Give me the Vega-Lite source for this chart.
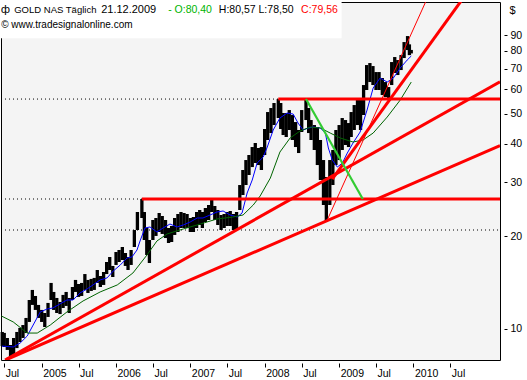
{
  "$schema": "https://vega.github.io/schema/vega-lite/v6.json",
  "width": 499,
  "height": 358,
  "autosize": {"type": "none"},
  "padding": {"left": 1, "top": 2, "right": 27, "bottom": 20},
  "background": "white",
  "config": {
    "view": {"fill": "#f4f4f4", "stroke": "black", "strokeWidth": 1},
    "font": "Liberation Sans",
    "axis": {"grid": false, "domain": false, "tickColor": "black", "labelColor": "black", "labelFont": "Liberation Sans", "labelFontSize": 10.5, "titleFont": "Liberation Sans"}
  },
  "datasets": {
    "price": [
      {"d":"2004-06-21","hi":9.78,"lo":8.80},{"d":"2004-07-01","hi":9.71,"lo":8.74},{"d":"2004-07-16","hi":9.35,"lo":8.55},{"d":"2004-08-01","hi":8.87,"lo":8.05},{"d":"2004-08-16","hi":9.35,"lo":8.17},{"d":"2004-09-01","hi":9.78,"lo":8.67},{"d":"2004-09-16","hi":10.08,"lo":9.07},{"d":"2004-10-01","hi":10.30,"lo":9.35},{"d":"2004-10-16","hi":10.86,"lo":9.70},{"d":"2004-11-01","hi":12.42,"lo":10.54},{"d":"2004-11-16","hi":13.39,"lo":11.97},{"d":"2004-12-01","hi":12.80,"lo":11.53},{"d":"2004-12-16","hi":11.97,"lo":10.86},
      {"d":"2005-01-01","hi":11.53,"lo":10.54},{"d":"2005-01-16","hi":11.27,"lo":10.15},{"d":"2005-02-01","hi":12.15,"lo":10.94},{"d":"2005-02-16","hi":14.11,"lo":12.42},{"d":"2005-03-01","hi":13.19,"lo":11.53},{"d":"2005-03-16","hi":12.61,"lo":11.27},{"d":"2005-04-01","hi":12.24,"lo":11.18},{"d":"2005-04-16","hi":12.90,"lo":11.70},{"d":"2005-05-01","hi":13.19,"lo":11.88},{"d":"2005-05-16","hi":12.61,"lo":11.27},{"d":"2005-06-01","hi":13.69,"lo":12.42},{"d":"2005-06-16","hi":14.43,"lo":13.19},{"d":"2005-07-01","hi":14.00,"lo":12.71},{"d":"2005-07-16","hi":14.11,"lo":12.80},{"d":"2005-08-01","hi":15.08,"lo":13.39},{"d":"2005-08-16","hi":14.43,"lo":13.09},{"d":"2005-09-01","hi":14.54,"lo":13.29},{"d":"2005-09-16","hi":14.65,"lo":13.39},{"d":"2005-10-01","hi":15.54,"lo":14.11},{"d":"2005-10-16","hi":14.86,"lo":13.69},{"d":"2005-11-01","hi":15.31,"lo":13.90},{"d":"2005-11-16","hi":16.50,"lo":15.08},{"d":"2005-12-01","hi":17.13,"lo":15.54},{"d":"2005-12-16","hi":16.02,"lo":14.75},
      {"d":"2006-01-01","hi":17.78,"lo":16.14},{"d":"2006-01-16","hi":18.05,"lo":16.50},{"d":"2006-02-01","hi":18.46,"lo":16.75},{"d":"2006-02-16","hi":17.65,"lo":16.02},{"d":"2006-03-01","hi":17.13,"lo":15.54},{"d":"2006-03-16","hi":18.05,"lo":16.14},{"d":"2006-04-01","hi":20.96,"lo":18.46},{"d":"2006-04-16","hi":23.98,"lo":20.96},{"d":"2006-05-08","hi":26.43,"lo":22.93},{"d":"2006-05-20","hi":23.98,"lo":19.45},{"d":"2006-06-01","hi":21.28,"lo":17.39},{"d":"2006-06-14","hi":19.45,"lo":16.38},{"d":"2006-07-01","hi":22.59,"lo":19.45},{"d":"2006-07-16","hi":22.93,"lo":20.05},{"d":"2006-08-01","hi":23.80,"lo":20.65},{"d":"2006-08-16","hi":23.28,"lo":20.35},{"d":"2006-09-01","hi":22.59,"lo":19.74},{"d":"2006-09-16","hi":21.28,"lo":19.02},{"d":"2006-10-01","hi":21.60,"lo":19.16},{"d":"2006-10-16","hi":22.93,"lo":20.20},{"d":"2006-11-01","hi":23.63,"lo":20.65},{"d":"2006-11-16","hi":23.98,"lo":21.28},{"d":"2006-12-01","hi":23.80,"lo":21.28},{"d":"2006-12-16","hi":23.63,"lo":21.28},
      {"d":"2007-01-01","hi":22.93,"lo":20.65},{"d":"2007-01-16","hi":23.10,"lo":20.65},{"d":"2007-02-01","hi":23.98,"lo":21.28},{"d":"2007-02-16","hi":24.34,"lo":21.76},{"d":"2007-03-01","hi":23.98,"lo":21.28},{"d":"2007-03-16","hi":24.71,"lo":22.25},{"d":"2007-04-01","hi":25.27,"lo":22.59},{"d":"2007-04-16","hi":26.23,"lo":23.98},{"d":"2007-05-01","hi":25.08,"lo":22.59},{"d":"2007-05-16","hi":24.34,"lo":21.76},{"d":"2007-06-01","hi":23.45,"lo":20.96},{"d":"2007-06-16","hi":23.63,"lo":21.28},{"d":"2007-07-01","hi":23.98,"lo":21.60},{"d":"2007-07-16","hi":24.16,"lo":21.60},{"d":"2007-08-01","hi":23.63,"lo":20.96},{"d":"2007-08-16","hi":23.98,"lo":20.96},{"d":"2007-09-01","hi":29.34,"lo":24.34},{"d":"2007-09-16","hi":32.83,"lo":27.23},{"d":"2007-10-01","hi":35.37,"lo":29.34},{"d":"2007-10-16","hi":36.72,"lo":31.62},{"d":"2007-11-01","hi":38.98,"lo":33.56},{"d":"2007-11-16","hi":40.17,"lo":34.59},{"d":"2007-12-01","hi":38.70,"lo":34.07},{"d":"2007-12-16","hi":38.98,"lo":32.83},
      {"d":"2008-01-01","hi":44.60,"lo":36.72},{"d":"2008-01-16","hi":50.64,"lo":41.08},{"d":"2008-02-01","hi":52.18,"lo":43.28},{"d":"2008-02-16","hi":54.17,"lo":45.95},{"d":"2008-03-08","hi":55.8,"lo":48.42},{"d":"2008-03-20","hi":54.17,"lo":44.60},{"d":"2008-04-01","hi":50.27,"lo":42.64},{"d":"2008-04-16","hi":50.27,"lo":42.01},{"d":"2008-05-01","hi":51.40,"lo":44.27},{"d":"2008-05-16","hi":49.52,"lo":41.08},{"d":"2008-06-01","hi":46.99,"lo":38.98},{"d":"2008-06-16","hi":44.27,"lo":37.27},{"d":"2008-07-01","hi":51.40,"lo":43.61},{"d":"2008-07-22","hi":55.8,"lo":47.70},{"d":"2008-08-04","hi":52.18,"lo":43.28},{"d":"2008-08-16","hi":47.70,"lo":41.08},{"d":"2008-09-01","hi":45.95,"lo":38.12},{"d":"2008-09-16","hi":45.27,"lo":34.07},{"d":"2008-10-01","hi":41.08,"lo":30.46},{"d":"2008-10-16","hi":35.37,"lo":25.27},{"d":"2008-10-30","hi":31.15,"lo":22.25},{"d":"2008-11-16","hi":35.37,"lo":25.27},{"d":"2008-12-01","hi":38.12,"lo":29.34},{"d":"2008-12-16","hi":44.27,"lo":34.07},
      {"d":"2009-01-01","hi":45.95,"lo":35.37},{"d":"2009-01-16","hi":48.42,"lo":38.12},{"d":"2009-02-01","hi":47.70,"lo":39.57},{"d":"2009-02-16","hi":46.64,"lo":38.98},{"d":"2009-03-01","hi":50.64,"lo":42.01},{"d":"2009-03-16","hi":53.36,"lo":44.27},{"d":"2009-04-01","hi":56.24,"lo":45.95},{"d":"2009-04-16","hi":55.40,"lo":44.27},{"d":"2009-05-01","hi":61.97,"lo":49.52},{"d":"2009-05-16","hi":71.96,"lo":59.70},{"d":"2009-06-01","hi":73.05,"lo":63.37},{"d":"2009-06-16","hi":71.42,"lo":61.97},{"d":"2009-07-01","hi":68.29,"lo":59.70},{"d":"2009-07-16","hi":68.29,"lo":59.70},{"d":"2009-08-01","hi":65.30,"lo":57.50},{"d":"2009-08-16","hi":63.37,"lo":56.65},{"d":"2009-09-01","hi":61.05,"lo":55.40},{"d":"2009-09-16","hi":73.59,"lo":61.97},{"d":"2009-10-01","hi":76.40,"lo":67.79},{"d":"2009-10-16","hi":74.70,"lo":66.78},{"d":"2009-11-01","hi":77.55,"lo":69.32},{"d":"2009-11-16","hi":85.46,"lo":75.83},{"d":"2009-12-03","hi":89.38,"lo":80.50},{"d":"2009-12-12","hi":84.0,"lo":77.5},{"d":"2009-12-21","hi":80.57,"lo":78.50}
    ],
    "maBlue": [
      {"d":"2004-06-20","v":8.80},{"d":"2004-08-14","v":8.74},{"d":"2004-09-17","v":9.00},{"d":"2004-10-22","v":9.49},{"d":"2004-11-20","v":10.30},{"d":"2004-12-25","v":11.36},{"d":"2005-01-29","v":11.62},{"d":"2005-02-25","v":11.70},{"d":"2005-04-01","v":12.06},{"d":"2005-05-05","v":12.42},{"d":"2005-06-04","v":12.42},{"d":"2005-07-08","v":13.09},{"d":"2005-08-12","v":13.49},{"d":"2005-09-10","v":13.90},{"d":"2005-10-15","v":14.43},{"d":"2005-11-18","v":14.65},{"d":"2005-12-18","v":15.42},{"d":"2006-01-22","v":16.14},{"d":"2006-02-24","v":17.00},{"d":"2006-03-20","v":17.13},{"d":"2006-04-14","v":18.05},{"d":"2006-04-29","v":19.31},{"d":"2006-05-23","v":21.28},{"d":"2006-06-17","v":21.44},{"d":"2006-07-21","v":20.65},{"d":"2006-08-20","v":21.28},{"d":"2006-09-23","v":21.92},{"d":"2006-10-28","v":21.44},{"d":"2006-11-27","v":21.76},{"d":"2006-12-31","v":22.25},{"d":"2007-02-04","v":22.93},{"d":"2007-03-04","v":22.93},{"d":"2007-04-08","v":23.45},{"d":"2007-05-12","v":23.98},{"d":"2007-06-11","v":24.16},{"d":"2007-07-15","v":23.45},{"d":"2007-08-19","v":23.10},{"d":"2007-09-12","v":23.80},{"d":"2007-10-07","v":27.64},{"d":"2007-11-01","v":30.46},{"d":"2007-11-25","v":34.59},{"d":"2007-12-25","v":36.17},{"d":"2008-01-14","v":38.98},{"d":"2008-02-12","v":44.27},{"d":"2008-03-16","v":48.42},{"d":"2008-04-20","v":50.27},{"d":"2008-05-20","v":49.89},{"d":"2008-06-13","v":46.64},{"d":"2008-07-08","v":44.27},{"d":"2008-08-02","v":44.94},{"d":"2008-08-27","v":45.27},{"d":"2008-10-01","v":44.94},{"d":"2008-10-25","v":43.28},{"d":"2008-11-09","v":38.70},{"d":"2008-11-28","v":35.37},{"d":"2008-12-23","v":33.56},{"d":"2009-01-17","v":34.59},{"d":"2009-02-10","v":37.27},{"d":"2009-03-10","v":40.17},{"d":"2009-04-14","v":43.61},{"d":"2009-05-18","v":51.40},{"d":"2009-06-17","v":60.60},{"d":"2009-07-21","v":65.30},{"d":"2009-08-25","v":63.37},{"d":"2009-09-24","v":65.30},{"d":"2009-10-28","v":70.37},{"d":"2009-12-01","v":74.70},{"d":"2009-12-21","v":76.97}
    ],
    "maGreen": [
      {"d":"2004-06-17","v":11.02},{"d":"2004-08-14","v":10.54},{"d":"2004-10-22","v":9.70},{"d":"2004-12-10","v":9.70},{"d":"2005-02-12","v":10.30},{"d":"2005-05-05","v":11.36},{"d":"2005-07-23","v":12.33},{"d":"2005-10-15","v":13.19},{"d":"2006-01-07","v":13.90},{"d":"2006-03-25","v":15.20},{"d":"2006-06-02","v":17.39},{"d":"2006-07-21","v":19.31},{"d":"2006-09-09","v":20.35},{"d":"2006-11-27","v":21.12},{"d":"2007-02-19","v":21.92},{"d":"2007-05-12","v":22.76},{"d":"2007-07-29","v":23.10},{"d":"2007-09-17","v":23.45},{"d":"2007-11-06","v":25.27},{"d":"2007-12-10","v":27.03},{"d":"2008-01-29","v":30.92},{"d":"2008-03-16","v":37.55},{"d":"2008-05-05","v":41.70},{"d":"2008-06-23","v":43.94},{"d":"2008-08-12","v":45.27},{"d":"2008-10-01","v":44.94},{"d":"2008-11-18","v":43.28},{"d":"2009-01-07","v":41.70},{"d":"2009-03-10","v":40.47},{"d":"2009-04-28","v":41.08},{"d":"2009-06-17","v":43.28},{"d":"2009-08-25","v":48.78},{"d":"2009-10-28","v":55.40},{"d":"2009-12-21","v":63.37}
    ],
    "trend": [
      {"line":"L1","d":"2004-07-13","v":7.96},{"line":"L1","d":"2011-03-02","v":39.4},
      {"line":"L2","d":"2004-07-05","v":7.93},{"line":"L2","d":"2011-03-02","v":63.5},
      {"line":"L3","d":"2008-11-28","v":30.69},{"line":"L3","d":"2010-10-01","v":126.1},
      {"line":"L4","d":"2008-10-30","v":22.25},{"line":"L4","d":"2010-03-28","v":126.1},
      {"line":"G","d":"2008-07-22","v":55.8},{"line":"G","d":"2009-04-27","v":26.43}
    ],
    "levels": [
      {"k":"dot","d1":"2004-06-15","d2":"2008-03-08","v":55.8},
      {"k":"red","d1":"2008-03-08","d2":"2011-03-02","v":55.8},
      {"k":"dot","d1":"2004-06-15","d2":"2006-05-08","v":26.43},
      {"k":"red","d1":"2006-05-08","d2":"2011-03-02","v":26.43},
      {"k":"dot","d1":"2004-06-15","d2":"2011-03-02","v":20.96}
    ],
    "one": [{}]
  },
  "layer": [
    {
      "data": {"name": "levels"},
      "transform": [{"filter": "datum.k == 'dot'"}],
      "mark": {"type": "rule", "color": "black", "strokeWidth": 1, "strokeDash": [1, 3]},
      "encoding": {
        "x": {"field": "d1", "type": "temporal", "title": null, "scale": {"type": "utc", "domain": [{"year":2004,"month":6,"date":15,"utc":true},{"year":2011,"month":3,"date":2,"utc":true}]},
          "axis": {"orient": "bottom", "offset": 3, "tickSize": 4, "labelPadding": 1, "labelAlign": "left", "labelBaseline": "top", "labelOffset": 1,
            "values": [{"year":2004,"month":7,"date":1,"utc":true},{"year":2005,"month":1,"date":1,"utc":true},{"year":2005,"month":7,"date":1,"utc":true},{"year":2006,"month":1,"date":1,"utc":true},{"year":2006,"month":7,"date":1,"utc":true},{"year":2007,"month":1,"date":1,"utc":true},{"year":2007,"month":7,"date":1,"utc":true},{"year":2008,"month":1,"date":1,"utc":true},{"year":2008,"month":7,"date":1,"utc":true},{"year":2009,"month":1,"date":1,"utc":true},{"year":2009,"month":7,"date":1,"utc":true},{"year":2010,"month":1,"date":1,"utc":true},{"year":2010,"month":7,"date":1,"utc":true}],
            "labelExpr": "utcmonth(datum.value) == 0 ? utcFormat(datum.value, '%Y') : 'Jul'"}},
        "x2": {"field": "d2"},
        "y": {"field": "v", "type": "quantitative", "title": "$", "scale": {"type": "log", "domain": [7.93, 115.3], "nice": false},
          "axis": {"orient": "right", "offset": 4, "tickSize": 3, "labelPadding": 3, "labelBaseline": "middle", "values": [10,20,30,40,50,60,70,80,90], "format": "d",
            "titleAngle": 0, "titleAlign": "left", "titleBaseline": "middle", "titleX": 5, "titleY": 8, "titleFontSize": 11, "titleFontWeight": "normal", "titleColor": "black"}}
      }
    },
    {
      "data": {"name": "one"},
      "mark": {"type": "rect", "color": "white"},
      "encoding": {
        "x": {"datum": {"year":2004,"month":6,"date":15,"utc":true}, "type": "temporal", "title": null},
        "x2": {"datum": {"year":2009,"month":1,"date":13,"utc":true}},
        "y": {"datum": 115.3, "type": "quantitative", "title": "$"},
        "y2": {"datum": 88.0}
      }
    },
    {
      "data": {"name": "price"},
      "mark": {"type": "rule", "color": "black", "strokeWidth": 3.3},
      "encoding": {
        "x": {"field": "d", "type": "temporal", "title": null},
        "y": {"field": "lo", "type": "quantitative", "title": "$"},
        "y2": {"field": "hi"}
      }
    },
    {
      "data": {"name": "maBlue"},
      "mark": {"type": "line", "color": "#0000ff", "strokeWidth": 1},
      "encoding": {
        "x": {"field": "d", "type": "temporal", "title": null},
        "y": {"field": "v", "type": "quantitative", "title": "$"}
      }
    },
    {
      "data": {"name": "maGreen"},
      "mark": {"type": "line", "color": "#006400", "strokeWidth": 1},
      "encoding": {
        "x": {"field": "d", "type": "temporal", "title": null},
        "y": {"field": "v", "type": "quantitative", "title": "$"}
      }
    },
    {
      "data": {"name": "levels"},
      "transform": [{"filter": "datum.k == 'red'"}],
      "mark": {"type": "rule", "color": "#ff0000", "strokeWidth": 3},
      "encoding": {
        "x": {"field": "d1", "type": "temporal", "title": null},
        "x2": {"field": "d2"},
        "y": {"field": "v", "type": "quantitative", "title": "$"}
      }
    },
    {
      "data": {"name": "trend"},
      "transform": [{"filter": "datum.line == 'L1' || datum.line == 'L2' || datum.line == 'L3'"}],
      "mark": {"type": "line", "color": "#ff0000", "strokeWidth": 3, "clip": true},
      "encoding": {
        "x": {"field": "d", "type": "temporal", "title": null},
        "y": {"field": "v", "type": "quantitative", "title": "$"},
        "detail": {"field": "line"}
      }
    },
    {
      "data": {"name": "trend"},
      "transform": [{"filter": "datum.line == 'L4'"}],
      "mark": {"type": "line", "color": "#ff0000", "strokeWidth": 1, "clip": true},
      "encoding": {
        "x": {"field": "d", "type": "temporal", "title": null},
        "y": {"field": "v", "type": "quantitative", "title": "$"}
      }
    },
    {
      "data": {"name": "trend"},
      "transform": [{"filter": "datum.line == 'G'"}],
      "mark": {"type": "line", "color": "#33cc33", "strokeWidth": 2.2},
      "encoding": {
        "x": {"field": "d", "type": "temporal", "title": null},
        "y": {"field": "v", "type": "quantitative", "title": "$"}
      }
    },
    {
      "data": {"name": "one"},
      "mark": {"type": "text", "align": "center", "baseline": "middle", "fontSize": 11, "color": "black", "font": "DejaVu Sans"},
      "encoding": {
        "x": {"datum": {"year":2004,"month":7,"date":7,"utc":true}, "type": "temporal", "title": null},
        "y": {"datum": 108.6, "type": "quantitative", "title": "$"},
        "text": {"value": "ф"}
      }
    },
    {
      "data": {"name": "one"},
      "mark": {"type": "text", "align": "left", "baseline": "middle", "fontSize": 9.5, "color": "black"},
      "encoding": {
        "x": {"datum": {"year":2004,"month":8,"date":19,"utc":true}, "type": "temporal", "title": null},
        "y": {"datum": 108.6, "type": "quantitative", "title": "$"},
        "text": {"value": "GOLD NAS Täglich"}
      }
    },
    {
      "data": {"name": "one"},
      "mark": {"type": "text", "align": "left", "baseline": "middle", "fontSize": 11, "color": "black"},
      "encoding": {
        "x": {"datum": {"year":2005,"month":10,"date":20,"utc":true}, "type": "temporal", "title": null},
        "y": {"datum": 108.6, "type": "quantitative", "title": "$"},
        "text": {"value": "21.12.2009"}
      }
    },
    {
      "data": {"name": "one"},
      "mark": {"type": "text", "align": "left", "baseline": "middle", "fontSize": 10.5, "color": "#00b400"},
      "encoding": {
        "x": {"datum": {"year":2006,"month":9,"date":14,"utc":true}, "type": "temporal", "title": null},
        "y": {"datum": 108.6, "type": "quantitative", "title": "$"},
        "text": {"value": "- O:80,40"}
      }
    },
    {
      "data": {"name": "one"},
      "mark": {"type": "text", "align": "left", "baseline": "middle", "fontSize": 10.5, "color": "black"},
      "encoding": {
        "x": {"datum": {"year":2007,"month":5,"date":21,"utc":true}, "type": "temporal", "title": null},
        "y": {"datum": 108.6, "type": "quantitative", "title": "$"},
        "text": {"value": "H:80,57 L:78,50"}
      }
    },
    {
      "data": {"name": "one"},
      "mark": {"type": "text", "align": "left", "baseline": "middle", "fontSize": 10.5, "color": "#ff0000"},
      "encoding": {
        "x": {"datum": {"year":2008,"month":6,"date":28,"utc":true}, "type": "temporal", "title": null},
        "y": {"datum": 108.6, "type": "quantitative", "title": "$"},
        "text": {"value": "C:79,56"}
      }
    },
    {
      "data": {"name": "one"},
      "mark": {"type": "text", "align": "left", "baseline": "middle", "fontSize": 10, "color": "black"},
      "encoding": {
        "x": {"datum": {"year":2004,"month":6,"date":16,"utc":true}, "type": "temporal", "title": null},
        "y": {"datum": 97.4, "type": "quantitative", "title": "$"},
        "text": {"value": "© www.tradesignalonline.com"}
      }
    }
  ]
}
